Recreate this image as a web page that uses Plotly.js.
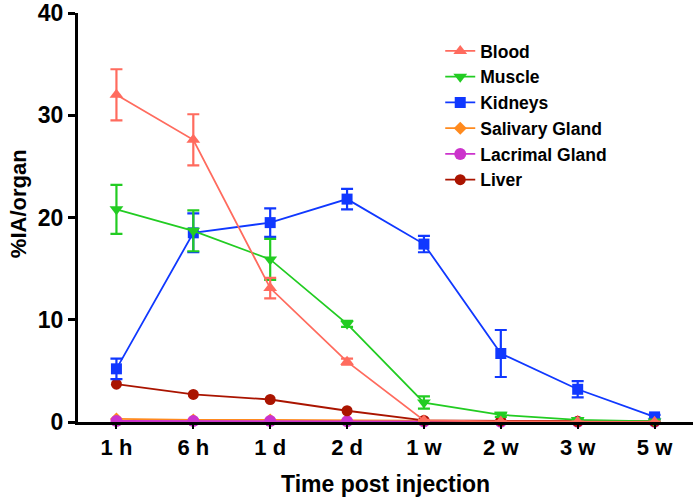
<!DOCTYPE html>
<html>
<head>
<meta charset="utf-8">
<script src="https://cdn.plot.ly/plotly-3.0.1.min.js"></script>
<style>body{margin:0;padding:0;background:#fff}#chart{width:697px;height:503px}</style>
</head>
<body>
<div id="chart"></div>
<script>
var timepoints = ["1 h", "6 h", "1 d", "2 d", "1 w", "2 w", "3 w", "5 w"];

var bloodMean   = [32.0, 27.6, 13.1, 5.9, 0.15, 0.05, 0.03, 0.02];
var bloodErr    = [2.5, 2.5, 1.0, 0.3, 0.05, 0.02, 0.01, 0.01];
var muscleMean  = [20.8, 18.7, 15.9, 9.6, 1.9, 0.7, 0.2, 0.05];
var muscleErr   = [2.4, 2.0, 2.0, 0.3, 0.6, 0.2, 0.1, 0.02];
var kidneyMean  = [5.2, 18.5, 19.5, 21.8, 17.4, 6.7, 3.2, 0.5];
var kidneyErr   = [1.0, 1.9, 1.4, 1.0, 0.8, 2.3, 0.8, 0.2];
var salivaryMean = [0.3, 0.2, 0.2, 0.15, 0.1, 0.05, 0.05, 0.03];
var lacrimalMean = [0.1, 0.1, 0.1, 0.08, 0.05, 0.03, 0.02, 0.02];
var liverMean   = [3.7, 2.7, 2.2, 1.1, 0.15, 0.1, 0.05, 0.05];

var FONT = "Liberation Sans, Arial, Helvetica, sans-serif";

function series(name, y, err, color, symbol, size, rank) {
  var t = {
    x: timepoints, y: y, name: name, type: "scatter", mode: "lines+markers",
    line: {color: color, width: 1.8},
    marker: {color: color, symbol: symbol, size: size},
    cliponaxis: false, legendrank: rank
  };
  if (err) t.error_y = {type: "data", array: err, visible: true, color: color, thickness: 2.2, width: 6};
  return t;
}

var data = [
  series("Salivary Gland", salivaryMean, null, "#FF8A1E", "diamond", 10, 4),
  series("Lacrimal Gland", lacrimalMean, null, "#CC33CC", "circle", 12, 5),
  series("Liver", liverMean, null, "#AA1400", "circle", 11, 6),
  series("Kidneys", kidneyMean, kidneyErr, "#1038FF", "square", 11, 3),
  series("Muscle", muscleMean, muscleErr, "#22CC22", "triangle-down", 12, 2),
  series("Blood", bloodMean, bloodErr, "#FF6B5E", "triangle-up", 12, 1)
];

var layout = {
  width: 697, height: 503,
  margin: {l: 78, r: 4, t: 13, b: 81},
  paper_bgcolor: "#fff", plot_bgcolor: "#fff",
  font: {family: FONT, color: "#000"},
  showlegend: true,
  legend: {
    x: 0.589, y: 0.951, xanchor: "left", yanchor: "top",
    font: {size: 17.5, family: FONT, weight: "bold"},
    tracegroupgap: 0, itemwidth: 30, bgcolor: "rgba(0,0,0,0)"
  },
  xaxis: {
    type: "category", range: [-0.5, 7.5],
    showline: true, linecolor: "#000", linewidth: 3,
    ticks: "outside", ticklen: 4, tickwidth: 2, tickcolor: "#000",
    showgrid: false, zeroline: false,
    tickfont: {size: 22, weight: "bold"}
  },
  yaxis: {
    range: [0, 40], tickvals: [0, 10, 20, 30, 40],
    showline: true, linecolor: "#000", linewidth: 3,
    ticks: "outside", ticklen: 7, tickwidth: 3, tickcolor: "#000",
    showgrid: false, zeroline: false,
    tickfont: {size: 23, weight: "bold"}
  },
  annotations: [
    {text: "Time post injection", xref: "paper", yref: "paper", x: 0.5, y: -0.1516,
     xanchor: "center", yanchor: "middle", showarrow: false,
     font: {size: 23, weight: "bold", family: FONT}},
    {text: "%IA/organ", xref: "paper", yref: "paper", x: -0.0976, y: 0.535,
     xanchor: "center", yanchor: "middle", showarrow: false, textangle: -90,
     font: {size: 22, weight: "bold", family: FONT}}
  ]
};

Plotly.newPlot("chart", data, layout, {displayModeBar: false, staticPlot: true});
</script>
</body>
</html>
